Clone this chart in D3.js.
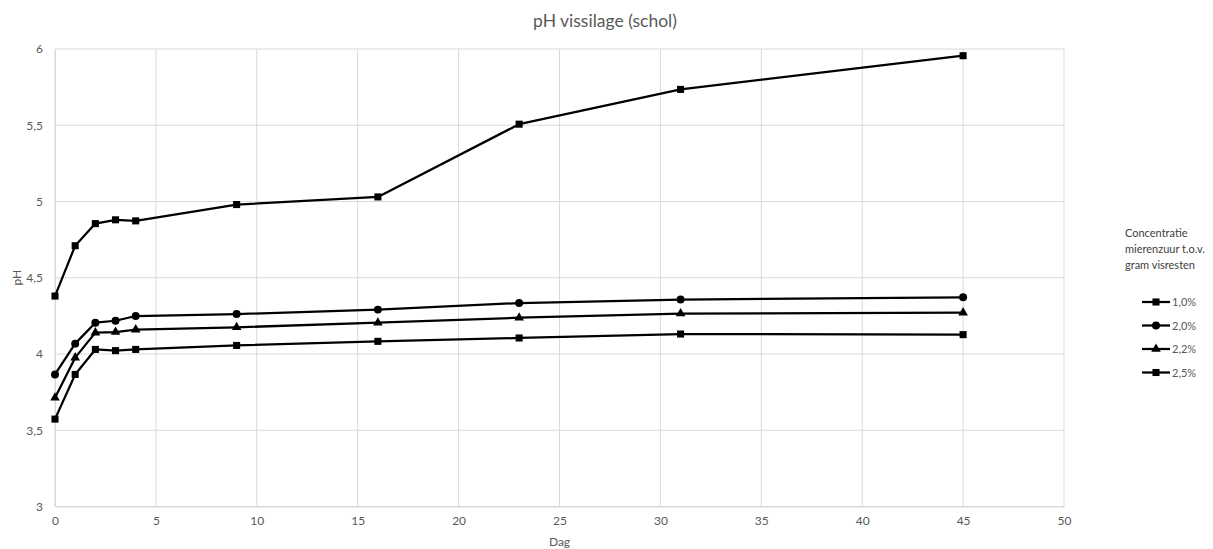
<!DOCTYPE html>
<html>
<head>
<meta charset="utf-8">
<script src="https://cdn.jsdelivr.net/npm/d3@7"></script>
<style>
  body { margin: 0; background: #fff; }
  text { font-family: Lato, "Open Sans", sans-serif; }
</style>
</head>
<body>
<script>
let width = 1213;
let height = 549;

// days of measurement
let days = [0, 1, 2, 3, 4, 9, 16, 23, 31, 45];
let seriesNames = ['1,0%', '2,0%', '2,2%', '2,5%'];
let ph10 = [4.38, 4.71, 4.855, 4.88, 4.873, 4.98, 5.03, 5.507, 5.735, 5.956];
let ph20 = [3.866, 4.068, 4.205, 4.218, 4.249, 4.262, 4.291, 4.334, 4.357, 4.372];
let ph22 = [3.713, 3.976, 4.14, 4.144, 4.16, 4.175, 4.205, 4.238, 4.265, 4.271];
let ph25 = [3.573, 3.866, 4.03, 4.022, 4.03, 4.056, 4.083, 4.105, 4.131, 4.127];
let xTicks = [0, 5, 10, 15, 20, 25, 30, 35, 40, 45, 50];
let yTicks = [3, 3.5, 4, 4.5, 5, 5.5, 6];
let legendTitle = ['Concentratie', 'mierenzuur t.o.v.', 'gram visresten'];

let series = [
    { name: seriesNames[0], values: ph10, symbol: d3.symbolSquare },
    { name: seriesNames[1], values: ph20, symbol: d3.symbolCircle },
    { name: seriesNames[2], values: ph22, symbol: d3.symbolTriangle },
    { name: seriesNames[3], values: ph25, symbol: d3.symbolSquare }
];

let x = d3.scaleLinear().domain([0, 50]).range([55, 1064]);
let y = d3.scaleLinear().domain([3, 6]).range([506.5, 49]);
let fmt = d => String(d).replace('.', ',');

let svg = d3.select("body").append("svg")
    .attr("width", width)
    .attr("height", height);

// title
svg.append("text")
    .attr("x", 605).attr("y", 27)
    .attr("text-anchor", "middle")
    .style("font-size", "17.5px")
    .style("fill", "#595959")
    .text("pH vissilage (schol)");

// gridlines
let grid = svg.append("g");
grid.selectAll("line.h").data(yTicks).enter().append("line")
    .attr("x1", x(0)).attr("x2", x(50))
    .attr("y1", d => y(d)).attr("y2", d => y(d))
    .style("stroke", "#d9d9d9").style("stroke-width", 1);
grid.selectAll("line.v").data(xTicks).enter().append("line")
    .attr("x1", d => x(d)).attr("x2", d => x(d))
    .attr("y1", y(3)).attr("y2", y(6))
    .style("stroke", "#d9d9d9").style("stroke-width", 1);

// axes
let xAxis = svg.append("g")
    .attr("transform", "translate(0," + y(3) + ")")
    .call(d3.axisBottom(x).tickValues(xTicks).tickSize(0).tickPadding(10).tickFormat(fmt));
let yAxis = svg.append("g")
    .attr("transform", "translate(" + x(0) + ",0)")
    .call(d3.axisLeft(y).tickValues(yTicks).tickSize(0).tickPadding(12).tickFormat(fmt));
[xAxis, yAxis].forEach(a => {
    a.select(".domain").style("stroke", "#d9d9d9");
    a.selectAll("text").style("font-size", "12px").style("fill", "#595959").style("font-family", "Lato, sans-serif");
});

svg.append("text")
    .attr("x", x(25)).attr("y", 546)
    .attr("text-anchor", "middle")
    .style("font-size", "12px").style("fill", "#595959")
    .text("Dag");
svg.append("text")
    .attr("transform", "translate(21," + y(4.5) + ")rotate(-90)")
    .attr("text-anchor", "middle")
    .style("font-size", "12px").style("fill", "#595959")
    .text("pH");

// lines + markers
let line = d3.line()
    .x((d, i) => x(days[i]))
    .y(d => y(d));

series.forEach(s => {
    svg.append("path")
        .attr("d", line(s.values))
        .style("fill", "none")
        .style("stroke", "#000")
        .style("stroke-width", 2.25)
        .style("stroke-linejoin", "round");
    let sym = d3.symbol().type(s.symbol).size(s.symbol === d3.symbolTriangle ? 40 : 50);
    svg.selectAll(null).data(s.values).enter().append("path")
        .attr("d", sym)
        .attr("transform", (d, i) => "translate(" + x(days[i]) + "," + y(d) + ")")
        .style("fill", "#000");
});

// legend
let legend = svg.append("g");
legend.selectAll("text.t").data(legendTitle).enter().append("text")
    .attr("x", 1125)
    .attr("y", (d, i) => 237 + i * 16)
    .style("font-size", "11px").style("fill", "#404040")
    .text(d => d);

let item = legend.selectAll("g.item").data(series).enter().append("g")
    .attr("transform", (d, i) => "translate(0," + (302 + i * 23.5) + ")");
item.append("line")
    .attr("x1", 1142).attr("x2", 1170)
    .style("stroke", "#000").style("stroke-width", 2.25);
item.append("path")
    .attr("d", d => d3.symbol().type(d.symbol).size(d.symbol === d3.symbolTriangle ? 40 : 50)())
    .attr("transform", "translate(1156,0)")
    .style("fill", "#000");
item.append("text")
    .attr("x", 1172).attr("y", 4)
    .style("font-size", "11px").style("fill", "#595959")
    .text(d => d.name);
</script>
</body>
</html>
